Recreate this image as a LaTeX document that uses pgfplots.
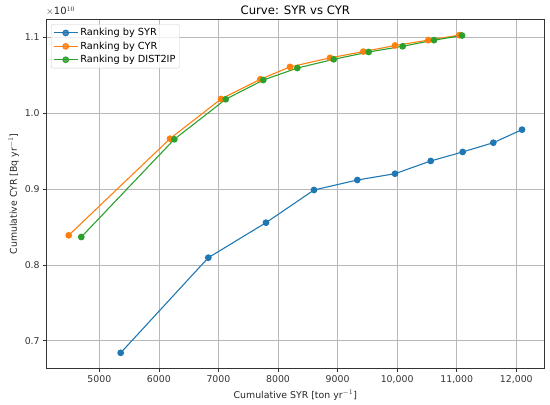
\documentclass[border=0pt]{standalone}
\usepackage{pgfplots}
\pgfplotsset{compat=1.18}
\usepackage{fontspec}
\setmainfont{DejaVu Sans}
\definecolor{c0}{HTML}{1F77B4}
\definecolor{c1}{HTML}{FF7F0E}
\definecolor{c2}{HTML}{2CA02C}
\begin{document}
\begin{tikzpicture}
\path[use as bounding box] (0,0) rectangle (550bp,405bp);
\begin{axis}[
  at={(46.7bp,36.7bp)}, anchor=south west,
  scale only axis, width=497.3bp, height=349bp,
  xmin=4117, xmax=12465, ymin=0.6636, ymax=1.124,
  xtick={5000,6000,7000,8000,9000,10000,11000,12000},
  xticklabels={5000,6000,7000,8000,9000,{10,000},{11,000},{12,000}},
  ytick={0.7,0.8,0.9,1.0,1.1},
  yticklabels={0.7,0.8,0.9,1.0,1.1},
  scaled ticks=false,
  tick pos=left,
  /pgf/number format/assume math mode=true,
  tick label style={font=\fontsize{9.4}{10}\selectfont, text=black!80},
  label style={font=\fontsize{9.4}{10}\selectfont, text=black!85},
  tick align=outside, major tick length=3.5bp,
  tick style={black!80, line width=0.6pt},
  axis line style={black!80, line width=0.6pt},
  grid=major, grid style={color=black!28, line width=0.6pt},
  xlabel={Cumulative SYR [ton yr$^{-1}$]},
  ylabel={Cumulative CYR [Bq yr$^{-1}$]},
  xlabel style={yshift=0bp},
  ylabel style={yshift=-1bp},
  title={Curve: SYR vs CYR},
  title style={font=\fontsize{11.7}{13}\selectfont, yshift=-5bp},
  legend style={at={(0,1)}, anchor=north west, xshift=4.3bp, yshift=-5bp,
    font=\fontsize{9.8}{11}\selectfont,
    draw=black!20, fill=white, fill opacity=0.8, text opacity=1, rounded corners=2bp,
    inner sep=2bp, row sep=0.5bp},
  legend cell align=left,
  legend image code/.code={\draw[#1, mark repeat=2, mark phase=2] plot coordinates {(0bp,0bp) (12bp,0bp) (24bp,0bp)};},
  every axis plot/.append style={line width=1.1pt, mark=*, mark size=2.8bp},
]
\addplot[c0, mark options={fill=c0, draw=c0}] coordinates {
(5359,0.684) (6830,0.8095) (7798,0.8557) (8604,0.8988) (9331,0.912)
(9964,0.9203) (10563,0.9371) (11100,0.949) (11614,0.9612) (12096,0.9784)};
\addlegendentry{Ranking by SYR}
\addplot[c1, mark options={fill=c1, draw=c1}] coordinates {
(4486,0.839) (6187,0.9665) (7043,1.0189) (7703,1.0449) (8202,1.0612)
(8873,1.0731) (9432,1.0814) (9964,1.0894) (10523,1.0965) (11043,1.1031)};
\addlegendentry{Ranking by CYR}
\addplot[c2, mark options={fill=c2, draw=c2}] coordinates {
(4698,0.8368) (6259,0.9657) (7122,1.0185) (7753,1.0439) (8324,1.0597)
(8935,1.0712) (9522,1.0809) (10093,1.0884) (10619,1.0965) (11089,1.1026)};
\addlegendentry{Ranking by DIST2IP}
\end{axis}
\node[anchor=south west, font=\fontsize{10}{11}\selectfont, text=black!85, inner sep=0pt] at (46bp,389bp) {$\times$10$^{10}$};
\end{tikzpicture}
\end{document}
